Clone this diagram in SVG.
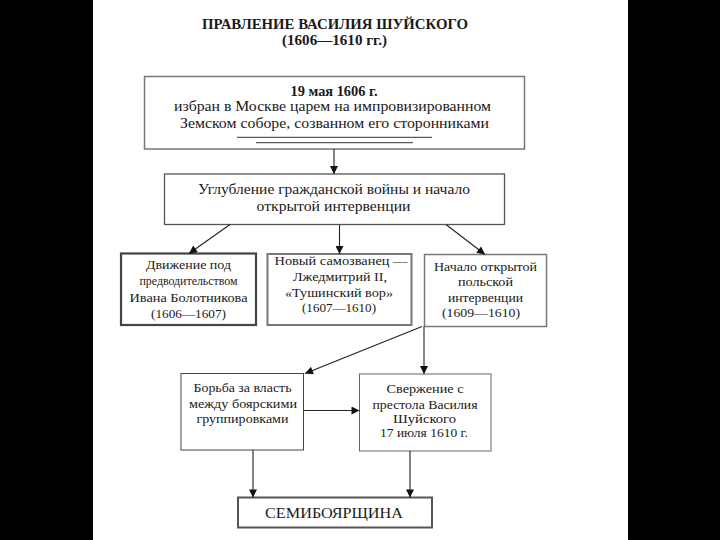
<svg xmlns="http://www.w3.org/2000/svg" width="720" height="540" viewBox="0 0 720 540">
<defs>
<marker id="ah" viewBox="0 0 10 10" refX="10" refY="5" markerWidth="9" markerHeight="8" markerUnits="userSpaceOnUse" orient="auto">
<path d="M0,0 L10,5 L0,10 Z" fill="#111"/>
</marker>
<style>
text{font-family:"Liberation Serif","Times New Roman",serif;fill:#1a1a1a;text-anchor:middle}
.t{font-size:14px;font-weight:bold}
.b{font-size:14px}
.s{font-size:12.5px}
.xs{font-size:11.5px}
.m{font-size:13px}
.box{fill:#fff;stroke:#666;stroke-width:1.5}
.con line{stroke:#222;stroke-width:1.1;marker-end:url(#ah)}
</style>
</defs>
<rect x="0" y="0" width="720" height="540" fill="#000"/>
<rect x="93" y="0" width="535" height="540" fill="#fff"/>

<g id="title">
<text class="t" x="335" y="29" textLength="266" lengthAdjust="spacingAndGlyphs">ПРАВЛЕНИЕ ВАСИЛИЯ ШУЙСКОГО</text>
<text class="t" x="334.5" y="45" textLength="105" lengthAdjust="spacingAndGlyphs">(1606—1610 гг.)</text>
</g>

<g id="node-election">
<rect class="box" x="144.5" y="76.5" width="380" height="72.5" style="stroke:#777"/>
<text class="t" x="334" y="95.5" textLength="87" lengthAdjust="spacingAndGlyphs">19 мая 1606 г.</text>
<text class="b" x="332.5" y="111" textLength="317" lengthAdjust="spacingAndGlyphs">избран в Москве царем на импровизированном</text>
<text class="b" x="334.5" y="128" textLength="309" lengthAdjust="spacingAndGlyphs">Земском соборе, созванном его сторонниками</text>
<line x1="237" y1="137.3" x2="432" y2="137.3" stroke="#333" stroke-width="1"/>
<line x1="256" y1="142.7" x2="413" y2="142.7" stroke="#333" stroke-width="1"/>
</g>

<g id="node-deepening">
<rect class="box" x="164.5" y="174" width="340" height="50.5" style="stroke:#555;stroke-width:1.3"/>
<text class="b" x="334" y="194" textLength="272" lengthAdjust="spacingAndGlyphs">Углубление гражданской войны и начало</text>
<text class="b" x="333.5" y="211" textLength="154" lengthAdjust="spacingAndGlyphs">открытой интервенции</text>
</g>

<g id="node-bolotnikov">
<rect class="box" x="121" y="253.5" width="135" height="71.5" style="stroke:#444;stroke-width:2.2"/>
<text class="s" x="188.5" y="269" textLength="85" lengthAdjust="spacingAndGlyphs">Движение под</text>
<text class="xs" x="188.5" y="285" textLength="98" lengthAdjust="spacingAndGlyphs">предводительством</text>
<text class="s" x="188.5" y="301.5" textLength="118" lengthAdjust="spacingAndGlyphs">Ивана Болотникова</text>
<text class="s" x="188.5" y="317.5" textLength="75" lengthAdjust="spacingAndGlyphs">(1606—1607)</text>
</g>

<g id="node-false-dmitry">
<rect class="box" x="267.5" y="254" width="144" height="71" style="stroke:#777;stroke-width:2"/>
<text class="m" x="341" y="265" textLength="133" lengthAdjust="spacingAndGlyphs">Новый самозванец —</text>
<text class="m" x="340" y="281" textLength="94" lengthAdjust="spacingAndGlyphs">Лжедмитрий II,</text>
<text class="m" x="339" y="296.5" textLength="108" lengthAdjust="spacingAndGlyphs">«Тушинский вор»</text>
<text class="m" x="339" y="311.5" textLength="74" lengthAdjust="spacingAndGlyphs">(1607—1610)</text>
</g>

<g id="node-polish">
<rect class="box" x="424.5" y="254.5" width="122" height="72" style="stroke:#777"/>
<text class="s" x="485.5" y="271" textLength="103" lengthAdjust="spacingAndGlyphs">Начало открытой</text>
<text class="s" x="485.5" y="285.5" textLength="55" lengthAdjust="spacingAndGlyphs">польской</text>
<text class="s" x="485.5" y="301.5" textLength="75" lengthAdjust="spacingAndGlyphs">интервенции</text>
<text class="s" x="481" y="316.5" textLength="78" lengthAdjust="spacingAndGlyphs">(1609—1610)</text>
</g>

<g id="node-boyar-struggle">
<rect class="box" x="181" y="373.5" width="122.5" height="76.5" style="stroke:#444;stroke-width:1"/>
<text class="m" x="242.5" y="391.5" textLength="98" lengthAdjust="spacingAndGlyphs">Борьба за власть</text>
<text class="m" x="243" y="407.5" textLength="108" lengthAdjust="spacingAndGlyphs">между боярскими</text>
<text class="m" x="242.5" y="422.5" textLength="92" lengthAdjust="spacingAndGlyphs">группировками</text>
</g>

<g id="node-overthrow">
<rect class="box" x="359.5" y="374" width="131.5" height="77" style="stroke:#666;stroke-width:1"/>
<text class="s" x="425" y="393" textLength="77" lengthAdjust="spacingAndGlyphs">Свержение с</text>
<text class="s" x="425" y="409" textLength="105" lengthAdjust="spacingAndGlyphs">престола Василия</text>
<text class="s" x="424.5" y="422.5" textLength="63" lengthAdjust="spacingAndGlyphs">Шуйского</text>
<text class="s" x="424" y="436.5" textLength="88" lengthAdjust="spacingAndGlyphs">17 июля 1610 г.</text>
</g>

<g id="node-seven-boyars">
<rect class="box" x="238" y="497.5" width="194" height="30" style="stroke:#555;stroke-width:2"/>
<text class="b" x="334" y="517.5" textLength="138" lengthAdjust="spacingAndGlyphs">СЕМИБОЯРЩИНА</text>
</g>

<g id="connectors" class="con">
<line x1="334" y1="149" x2="334" y2="174"/>
<line x1="230" y1="224.5" x2="189" y2="253.5"/>
<line x1="339.5" y1="224.5" x2="339.5" y2="254"/>
<line x1="446" y1="224.5" x2="485" y2="254.5"/>
<line x1="422" y1="326.5" x2="305" y2="373.5"/>
<line x1="424" y1="326.5" x2="424" y2="374"/>
<line x1="303.5" y1="410.5" x2="359.5" y2="410.5"/>
<line x1="253" y1="450" x2="253" y2="497.5"/>
<line x1="410" y1="451" x2="410" y2="497.5"/>
</g>
</svg>
